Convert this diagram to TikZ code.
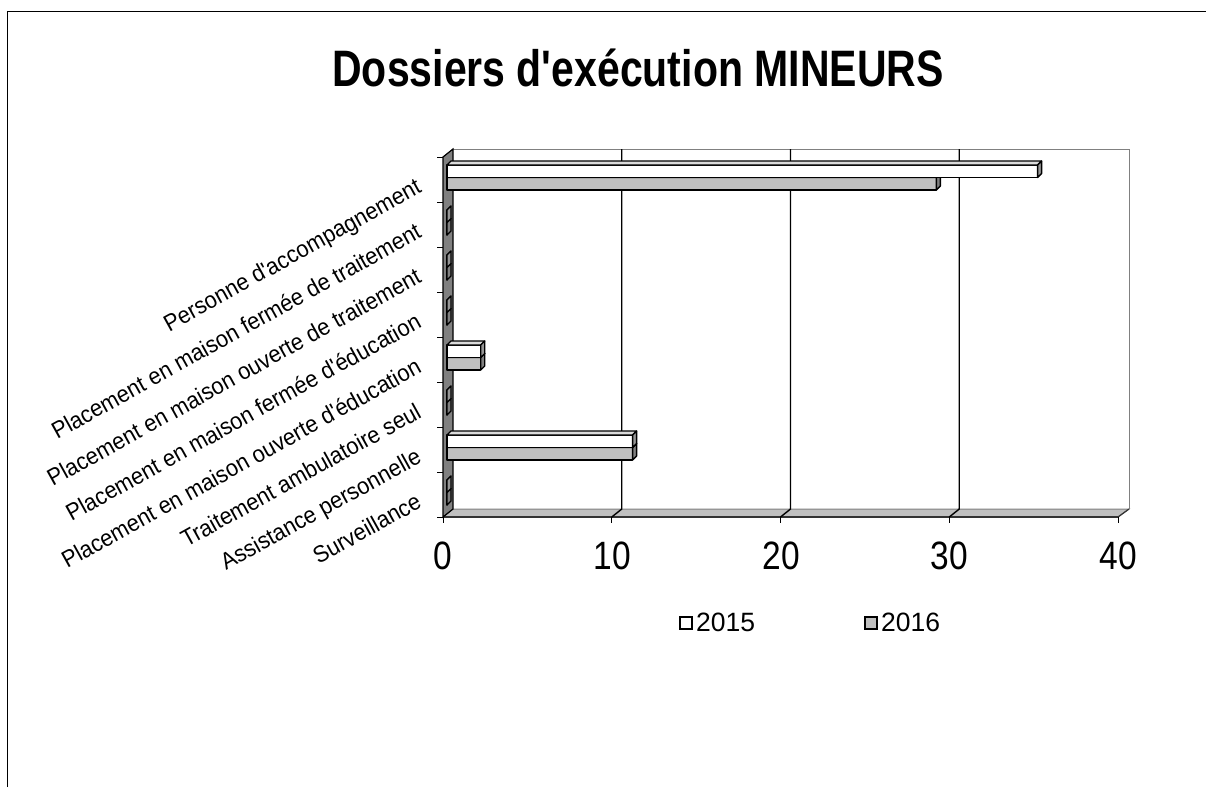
\documentclass[tikz,border=0pt]{standalone}
\usepackage{fontspec}
\setmainfont{Liberation Sans}[Ligatures=TeXOff]
\definecolor{bargray}{HTML}{C0C0C0}
\definecolor{wallgray}{HTML}{808080}
\definecolor{sidegray}{HTML}{969696}
\definecolor{topgray}{HTML}{DADADA}
\newcommand\drawbar[6]{%
  \pgfmathsetmacro\xr{447+16.875*#1}%
  \filldraw[barline,fill=#4] (447,#2) rectangle (\xr,#3);
  \filldraw[barline,fill=#5] (447,#2) -- (\xr,#2) -- ++(4,-4) -- (451,#2-4) -- cycle;
  \filldraw[barline,fill=#6] (\xr,#2) -- ++(4,-4) -- (\xr+4,#3-4) -- (\xr,#3) -- cycle;
}
\newcommand\catt[1]{\scalebox{0.93}[1]{\rule[-5.1pt]{0pt}{17.5pt}#1}}
\begin{document}
\begin{tikzpicture}[x=1pt,y=-1pt,
  frame/.style={line width=1pt,black},
  catlabel/.style={anchor=east,rotate=29,inner sep=0pt,font=\fontsize{23.5}{28}\selectfont},
  numlabel/.style={anchor=base,inner sep=0pt,font=\fontsize{33.5}{38}\selectfont},
  leglabel/.style={anchor=base west,inner sep=0pt,font=\fontsize{26.5}{30}\selectfont},
  legsq/.style={draw=black,line width=1.5pt,minimum size=12pt,inner sep=0pt},
  gridln/.style={line width=1.4pt,black},
  edgeln/.style={line width=1pt,wallgray},
  barline/.style={line width=1.3pt,black,line join=round},
  tickln/.style={line width=1pt,black}]
\useasboundingbox (0,0) rectangle (1206,787);
\draw[frame] (7,787) -- (7,11) -- (1206,11);
% title
\node[anchor=base,inner sep=0pt,font=\bfseries\fontsize{41}{48}\selectfont] (title) at (638,86) {\scalebox{1}[1.25]{Dossiers d'exécution MINEURS}};
% back wall edges
\draw[edgeln] (453,149) -- (1129,149) -- (1129,509);
% floor
\filldraw[fill=bargray,draw=wallgray,line width=1pt] (443,517) -- (453,509) -- (1129,509) -- (1118,517) -- cycle;
\draw[line width=1.2pt,black!80] (443,517) -- (1118,517);
% gridlines
\foreach \k in {1,2,3} {
  \pgfmathsetmacro\gx{453+168.75*\k}
  \draw[gridln] (\gx,149) -- (\gx,509) -- (\gx-10,517);
}
\draw[line width=1.2pt,black!80] (1129,509) -- (1118,517);
% left wall
\filldraw[fill=wallgray,draw=black,line width=1.2pt] (443,157) -- (453,149) -- (453,509) -- (443,517) -- cycle;
% ticks
\foreach \i in {0,...,8} {
  \draw[tickln] (437,157+45*\i) -- (443,157+45*\i);
}
\foreach \k in {0,...,4} {
  \draw[tickln] (443+168.75*\k,517) -- (443+168.75*\k,523);
}
% bars: category i, values 2015 / 2016
\foreach \i/\va/\vb in {1/35/29,2/0/0,3/0/0,4/0/0,5/2/2,6/0/0,7/11/11,8/0/0} {
  \pgfmathsetmacro\bt{157+45*(\i-1)}
  \drawbar{\vb}{\bt+20.5}{\bt+33}{bargray}{bargray}{wallgray}
  \drawbar{\va}{\bt+8}{\bt+20.5}{white}{topgray}{sidegray}
}
% category labels
\node[catlabel] (lab1) at (420,186.5) {\catt{Personne d'accompagnement}};
\node[catlabel] (lab2) at (420,231.5) {\catt{Placement en maison fermée de traitement}};
\node[catlabel] (lab3) at (420,276.5) {\catt{Placement en maison ouverte de traitement}};
\node[catlabel] (lab4) at (420,321.5) {\catt{Placement en maison fermée d'éducation}};
\node[catlabel] (lab5) at (420,366.5) {\catt{Placement en maison ouverte d'éducation}};
\node[catlabel] (lab6) at (420,411.5) {\catt{Traitement ambulatoire seul}};
\node[catlabel] (lab7) at (420,456.5) {\catt{Assistance personnelle}};
\node[catlabel] (lab8) at (420,501.5) {\catt{Surveillance}};
% value labels
\node[numlabel] (n0) at (443,569) {\scalebox{1}[1.18]{0}};
\node[numlabel] (n1) at (612,569) {\scalebox{1}[1.18]{10}};
\node[numlabel] (n2) at (781,569) {\scalebox{1}[1.18]{20}};
\node[numlabel] (n3) at (949,569) {\scalebox{1}[1.18]{30}};
\node[numlabel] (n4) at (1118,569) {\scalebox{1}[1.18]{40}};
% legend
\node[legsq,fill=white] (sq15) at (686,623) {};
\node[leglabel] (leg15) at (696,631) {2015};
\node[legsq,fill=bargray] (sq16) at (871,623) {};
\node[leglabel] (leg16) at (881,631) {2016};
\end{tikzpicture}
\end{document}
